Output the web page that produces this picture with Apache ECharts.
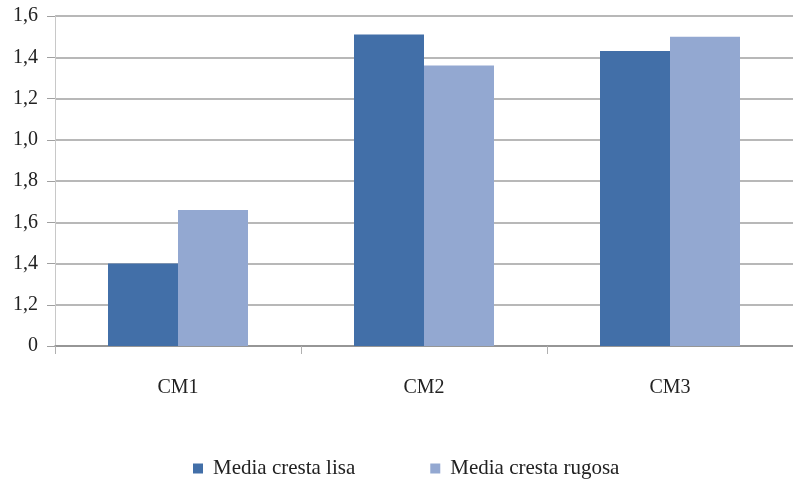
<!DOCTYPE html>
<html>
<head>
<meta charset="utf-8">
<script src="https://cdn.jsdelivr.net/npm/echarts@6/dist/echarts.min.js"></script>
<style>
html,body{margin:0;padding:0;background:#fff;}
#chart{width:793px;height:480px;}
</style>
</head>
<body>
<div id="chart"></div>
<script>
const categories = ['CM1', 'CM2', 'CM3'];
const seriesNames = ['Media cresta lisa', 'Media cresta rugosa'];
const lisaValues = [0.40, 1.51, 1.43];
const rugosaValues = [0.66, 1.36, 1.50];
const yTickLabels = ['0', '1,2', '1,4', '1,6', '1,8', '1,0', '1,2', '1,4', '1,6'];

const fontFamily = '"Liberation Serif", "Times New Roman", serif';
const chart = echarts.init(document.getElementById('chart'), null, {renderer: 'canvas'});
chart.setOption({
  animation: false,
  backgroundColor: '#ffffff',
  grid: {left: 55, width: 741, top: 16, height: 330, containLabel: false},
  legend: {
    data: seriesNames,
    left: 188,
    top: 453,
    icon: 'rect',
    itemWidth: 10,
    itemHeight: 10,
    itemGap: 75,
    textStyle: {fontFamily: fontFamily, fontSize: 21, color: '#222', padding: [0, 0, 0, 5]}
  },
  xAxis: {
    type: 'category',
    data: categories,
    boundaryGap: true,
    axisLine: {show: true, lineStyle: {color: '#8a8a8a', width: 1.5}},
    axisTick: {show: true, length: 8, lineStyle: {color: '#b0b0b0'}},
    axisLabel: {fontFamily: fontFamily, fontSize: 20, color: '#222', margin: 32}
  },
  yAxis: {
    type: 'value',
    min: 0,
    max: 1.6,
    interval: 0.2,
    axisLine: {show: true, lineStyle: {color: '#c8c8c8'}},
    axisTick: {show: true, length: 8, lineStyle: {color: '#a0a0a0'}},
    splitLine: {show: true, lineStyle: {color: '#a0a0a0', width: 1.5}},
    axisLabel: {
      fontFamily: fontFamily, fontSize: 20, color: '#222', margin: 17,
      formatter: function (v) { return yTickLabels[Math.round(v / 0.2)]; }
    }
  },
  series: [
    {name: seriesNames[0], type: 'bar', data: lisaValues, barWidth: 70, barGap: '0%',
     itemStyle: {color: '#426FA8'}},
    {name: seriesNames[1], type: 'bar', data: rugosaValues, barWidth: 70, barGap: '0%',
     itemStyle: {color: '#93A8D1'}}
  ]
});
</script>
</body>
</html>
